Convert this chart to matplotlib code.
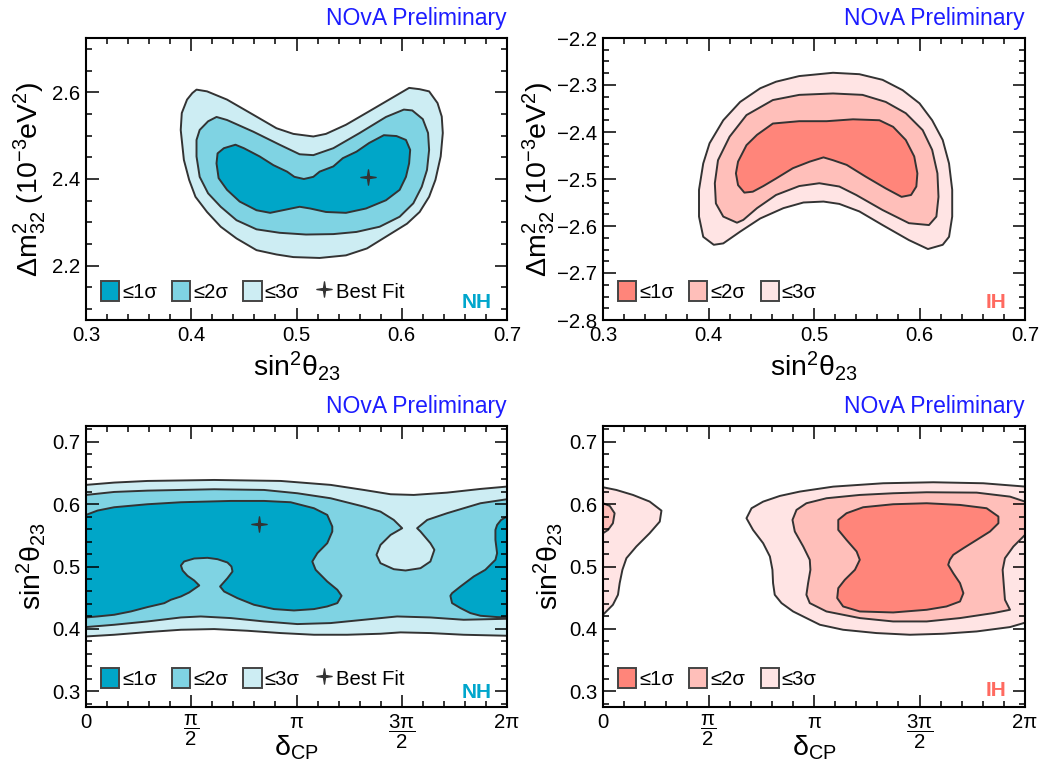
import numpy as np
import matplotlib
matplotlib.use('Agg')
import matplotlib.pyplot as plt
from matplotlib.ticker import MultipleLocator, FixedLocator, FixedFormatter
from matplotlib.patches import Patch
from matplotlib.lines import Line2D
from matplotlib.path import Path

plt.rcParams['font.family'] = ['Liberation Sans', 'DejaVu Sans']
plt.rcParams['mathtext.fontset'] = 'custom'
plt.rcParams['mathtext.rm'] = 'Liberation Sans'
plt.rcParams['mathtext.it'] = 'Liberation Sans:italic'
plt.rcParams['mathtext.bf'] = 'Liberation Sans:bold'
plt.rcParams['mathtext.default'] = 'regular'

# ---- NH: sin^2(theta23) vs dm^2_32 (1e-3 eV^2) contour outlines ----
nh_s23_3s = [0.405, 0.415, 0.434, 0.459, 0.481, 0.497, 0.516, 0.528, 0.547, 0.569, 0.588, 0.607, 0.617,
             0.626, 0.634, 0.638, 0.639, 0.637, 0.632, 0.626, 0.617, 0.605, 0.585, 0.567, 0.547, 0.522,
             0.497, 0.481, 0.462, 0.443, 0.428, 0.415, 0.404, 0.398, 0.393, 0.390, 0.391, 0.396, 0.401]
nh_dm_3s = [2.606, 2.602, 2.583, 2.548, 2.517, 2.504, 2.498, 2.504, 2.525, 2.556, 2.583, 2.610, 2.607,
            2.602, 2.575, 2.544, 2.506, 2.452, 2.398, 2.359, 2.324, 2.297, 2.267, 2.240, 2.224, 2.218,
            2.220, 2.226, 2.236, 2.263, 2.290, 2.324, 2.359, 2.398, 2.444, 2.513, 2.552, 2.583, 2.598]
nh_s23_2s = [0.424, 0.434, 0.459, 0.484, 0.503, 0.516, 0.535, 0.560, 0.585, 0.602, 0.610, 0.620, 0.625,
             0.626, 0.624, 0.619, 0.611, 0.598, 0.579, 0.557, 0.535, 0.509, 0.484, 0.462, 0.443, 0.428,
             0.416, 0.408, 0.405, 0.405, 0.408, 0.416]
nh_dm_2s = [2.543, 2.536, 2.509, 2.479, 2.457, 2.455, 2.471, 2.506, 2.543, 2.560, 2.558, 2.538, 2.506,
            2.467, 2.421, 2.382, 2.344, 2.313, 2.290, 2.278, 2.273, 2.272, 2.276, 2.284, 2.305, 2.336,
            2.367, 2.405, 2.452, 2.490, 2.513, 2.533]
nh_s23_1s = [0.442, 0.450, 0.465, 0.478, 0.491, 0.498, 0.507, 0.516, 0.522, 0.535, 0.544, 0.557, 0.569,
             0.583, 0.595, 0.604, 0.608, 0.607, 0.604, 0.598, 0.585, 0.566, 0.547, 0.528, 0.513, 0.503,
             0.491, 0.475, 0.462, 0.446, 0.434, 0.426, 0.424, 0.425, 0.431]
nh_dm_1s = [2.479, 2.471, 2.452, 2.432, 2.417, 2.405, 2.400, 2.405, 2.417, 2.429, 2.448, 2.463, 2.483,
            2.501, 2.499, 2.490, 2.467, 2.436, 2.405, 2.375, 2.351, 2.332, 2.322, 2.324, 2.332, 2.336,
            2.330, 2.322, 2.328, 2.348, 2.375, 2.402, 2.436, 2.459, 2.471]

# ---- IH: sin^2(theta23) vs dm^2_32 ----
ih_s23_3s = [0.405, 0.395, 0.391, 0.391, 0.395, 0.401, 0.414, 0.430, 0.449, 0.464, 0.486, 0.518, 0.543,
             0.565, 0.584, 0.600, 0.612, 0.622, 0.628, 0.631, 0.631, 0.628, 0.622, 0.608, 0.590, 0.565,
             0.543, 0.524, 0.509, 0.490, 0.471, 0.449, 0.430, 0.414]
ih_dm_3s = [-2.640, -2.623, -2.580, -2.523, -2.467, -2.424, -2.375, -2.336, -2.307, -2.293, -2.281, -2.274,
            -2.277, -2.289, -2.311, -2.339, -2.375, -2.417, -2.467, -2.523, -2.580, -2.623, -2.640, -2.649,
            -2.630, -2.598, -2.569, -2.553, -2.548, -2.550, -2.562, -2.584, -2.612, -2.637]
ih_s23_2s = [0.427, 0.414, 0.407, 0.406, 0.409, 0.420, 0.436, 0.461, 0.486, 0.518, 0.546, 0.568, 0.587,
             0.603, 0.612, 0.617, 0.618, 0.616, 0.609, 0.590, 0.565, 0.540, 0.524, 0.505, 0.486, 0.464,
             0.446, 0.433]
ih_dm_2s = [-2.593, -2.580, -2.552, -2.509, -2.460, -2.410, -2.364, -2.332, -2.321, -2.318, -2.321, -2.336,
            -2.360, -2.396, -2.438, -2.488, -2.538, -2.580, -2.598, -2.594, -2.566, -2.534, -2.516, -2.509,
            -2.515, -2.534, -2.562, -2.587]
ih_s23_1s = [0.434, 0.428, 0.426, 0.428, 0.436, 0.446, 0.461, 0.486, 0.512, 0.537, 0.562, 0.575, 0.587,
             0.595, 0.598, 0.597, 0.592, 0.583, 0.568, 0.549, 0.531, 0.518, 0.509, 0.496, 0.480, 0.464,
             0.452, 0.442]
ih_dm_1s = [-2.529, -2.513, -2.488, -2.463, -2.428, -2.406, -2.382, -2.377, -2.377, -2.373, -2.375, -2.389,
            -2.417, -2.452, -2.488, -2.516, -2.534, -2.538, -2.520, -2.495, -2.470, -2.460, -2.454, -2.463,
            -2.477, -2.499, -2.515, -2.527]

# ---- NH: delta_CP (units of pi) vs sin^2(theta23) ----
nh_dcp_3s_up = [0, 0.134, 0.292, 0.609, 0.925, 1.162, 1.320, 1.447, 1.557, 1.715, 1.874, 2.0]
nh_sd_3s_up = [0.6307, 0.6344, 0.637, 0.6386, 0.637, 0.6307, 0.6226, 0.6157, 0.6146, 0.6183, 0.6242, 0.628]
nh_dcp_3s_lo = [0, 0.134, 0.292, 0.451, 0.609, 0.767, 0.925, 1.083, 1.241, 1.399, 1.494, 1.636, 1.794, 2.0]
nh_sd_3s_lo = [0.388, 0.3907, 0.395, 0.3987, 0.3998, 0.3971, 0.3934, 0.3907, 0.3907, 0.3923, 0.3945,
               0.3934, 0.3907, 0.3891]
nh_dcp_2s_up = [0, 0.134, 0.292, 0.609, 0.846, 1.004, 1.162, 1.320, 1.399, 1.462, 1.502, 1.447, 1.399,
                1.380, 1.399, 1.462, 1.518, 1.589, 1.636, 1.655, 1.636, 1.589, 1.573, 1.621, 1.715, 1.794,
                1.874, 2.0]
nh_sd_2s_up = [0.6146, 0.6194, 0.6215, 0.6237, 0.6226, 0.6173, 0.6093, 0.5959, 0.5879, 0.5746, 0.5613,
               0.5506, 0.5346, 0.5187, 0.5053, 0.4957, 0.4936, 0.4973, 0.5080, 0.5267, 0.5373, 0.5560,
               0.5613, 0.5746, 0.5853, 0.5933, 0.6013, 0.6077]
nh_dcp_2s_lo = [0, 0.134, 0.292, 0.451, 0.545, 0.688, 0.846, 1.004, 1.162, 1.320, 1.478, 1.636, 1.794, 2.0]
nh_sd_2s_lo = [0.403, 0.4067, 0.412, 0.4184, 0.42, 0.4174, 0.412, 0.4078, 0.4094, 0.4147, 0.42, 0.4184,
               0.4147, 0.4163]
nh_dcp_1s_a = [0, 0.055, 0.134, 0.292, 0.451, 0.688, 0.846, 0.972, 1.083, 1.146, 1.170, 1.170, 1.146,
               1.099, 1.075, 1.091, 1.146, 1.194, 1.214, 1.194, 1.146, 1.083, 0.988, 0.893, 0.798, 0.719,
               0.656, 0.637, 0.672, 0.696, 0.691, 0.672, 0.625, 0.577, 0.514, 0.466, 0.451, 0.459, 0.482,
               0.514, 0.538, 0.490, 0.451, 0.403, 0.372, 0.292, 0.213, 0.134, 0.055, 0]
nh_sd_1s_a = [0.5826, 0.5896, 0.5949, 0.5997, 0.6029, 0.605, 0.605, 0.6029, 0.5933, 0.5826, 0.564, 0.556,
              0.5373, 0.5213, 0.508, 0.4947, 0.476, 0.4627, 0.4531, 0.4414, 0.436, 0.4318, 0.4296, 0.4318,
              0.4387, 0.4494, 0.46, 0.468, 0.4813, 0.492, 0.5, 0.5064, 0.5117, 0.5139, 0.5128, 0.508,
              0.5016, 0.4936, 0.4851, 0.4776, 0.4696, 0.4584, 0.452, 0.4467, 0.4413, 0.435, 0.428, 0.4227,
              0.42, 0.4184]
nh_dcp_1s_b = [2.0, 1.972, 1.953, 1.945, 1.945, 1.953, 1.945, 1.897, 1.842, 1.779, 1.739, 1.731, 1.739,
               1.779, 1.826, 1.874, 1.953, 2.0]
nh_sd_1s_b = [0.58, 0.5746, 0.5666, 0.5586, 0.5426, 0.5213, 0.5107, 0.4947, 0.484, 0.468, 0.4573, 0.4531,
              0.4414, 0.4334, 0.4254, 0.4211, 0.419, 0.4184]

# ---- IH: delta_CP (units of pi) vs sin^2(theta23) ----
ih_dcp_3s_a = [0, 0.063, 0.142, 0.221, 0.277, 0.269, 0.221, 0.158, 0.111, 0.092, 0.079, 0.071, 0.047, 0]
ih_sd_3s_a = [0.6269, 0.6226, 0.6146, 0.604, 0.5895, 0.5719, 0.5533, 0.532, 0.5133, 0.4947, 0.4733,
              0.4547, 0.4387, 0.4227]
ih_dcp_2s_a = [0, 0.032, 0.055, 0.047, 0.024, 0]
ih_sd_2s_a = [0.6013, 0.597, 0.5853, 0.5693, 0.5586, 0.5533]
ih_dcp_3s_b = [0.680, 0.704, 0.759, 0.838, 0.933, 1.091, 1.328, 1.565, 1.802, 2.0, 2.0, 1.929, 1.771, 1.613,
               1.455, 1.296, 1.138, 1.028, 0.964, 0.901, 0.846, 0.814, 0.806, 0.803, 0.791, 0.759, 0.711]
ih_sd_3s_b = [0.5773, 0.5933, 0.6039, 0.613, 0.62, 0.6279, 0.6333, 0.6349, 0.6333, 0.628, 0.41, 0.403,
              0.396, 0.3923, 0.3907, 0.3934, 0.3987, 0.4067, 0.4174, 0.428, 0.4414, 0.4547, 0.4733, 0.4947,
              0.516, 0.5373, 0.5586]
ih_dcp_2s_b = [0.898, 0.917, 0.964, 1.059, 1.217, 1.375, 1.534, 1.771, 1.929, 2.0, 2.0, 1.945, 1.905, 1.894,
               1.900, 1.905, 1.929, 1.850, 1.692, 1.534, 1.375, 1.217, 1.059, 0.980, 0.964, 0.972, 0.983,
               0.980, 0.949, 0.909]
ih_sd_2s_b = [0.5746, 0.5906, 0.6013, 0.6093, 0.6146, 0.6173, 0.6189, 0.6183, 0.6119, 0.6039, 0.5506,
              0.532, 0.5133, 0.4947, 0.468, 0.4467, 0.4307, 0.4254, 0.4174, 0.412, 0.412, 0.4174, 0.428,
              0.4414, 0.4547, 0.4733, 0.4947, 0.5107, 0.532, 0.556]
ih_dcp_1s_b = [1.115, 1.154, 1.233, 1.375, 1.534, 1.692, 1.818, 1.874, 1.874, 1.834, 1.771, 1.708, 1.660,
               1.644, 1.636, 1.660, 1.692, 1.708, 1.692, 1.628, 1.534, 1.375, 1.217, 1.138, 1.110, 1.115,
               1.146, 1.194, 1.217, 1.202, 1.154, 1.115]
ih_sd_1s_b = [0.5746, 0.5853, 0.5949, 0.5997, 0.6013, 0.5986, 0.5933, 0.58, 0.5693, 0.556, 0.5426, 0.5293,
              0.5187, 0.5107, 0.5027, 0.4893, 0.4733, 0.4573, 0.444, 0.436, 0.4307, 0.4264, 0.428, 0.436,
              0.4494, 0.4653, 0.4787, 0.4947, 0.5107, 0.524, 0.5426, 0.5586]

# best fit point (NH)
nh_best_s23, nh_best_dm, nh_best_dcp = 0.568, 2.405, 0.82

nh_cols = ['#00a6c8', '#7fd3e3', '#cdedf3']   # 1s, 2s, 3s
ih_cols = ['#ff857a', '#ffbfba', '#ffe4e4']
edge = '#333333'
nh_txt, ih_txt = '#00a6cc', '#ff6a60'
sig_labels = ['≤1σ', '≤2σ', '≤3σ']

# thin four-pointed star like ROOT's marker
w = 0.13
star = Path([(0, 1), (w, w), (1, 0), (w, -w), (0, -1), (-w, -w), (-1, 0), (-w, w), (0, 1)],
            [Path.MOVETO] + [Path.LINETO] * 7 + [Path.CLOSEPOLY])

fig = plt.figure(figsize=(10.42, 7.65), dpi=100)
W, H = 1042, 765
def add_ax(x0, y0, x1, y1):
    return fig.add_axes([x0 / W, 1 - y1 / H, (x1 - x0) / W, (y1 - y0) / H])

ax_tl = add_ax(86, 38, 507, 320)
ax_tr = add_ax(603, 38, 1025, 320)
ax_bl = add_ax(86, 426, 507, 707)
ax_br = add_ax(603, 426, 1025, 707)

def fill(ax, x, y, c):
    ax.fill(x, y, facecolor=c, edgecolor=edge, lw=1.4, joinstyle='round')

def style(ax):
    ax.tick_params(which='both', direction='in', top=True, right=True, width=1.1,
                   labelsize=14.7, pad=4)
    ax.tick_params(which='major', length=9)
    ax.tick_params(which='minor', length=4.5)
    for s in ax.spines.values():
        s.set_linewidth(1.5)
    ax.text(1.0, 1.047, 'NOvA Preliminary', transform=ax.transAxes, ha='right', va='baseline',
            color='#1c1cff', fontsize=16.5)

def legend(ax, cols, best):
    handles = [Patch(facecolor=c, edgecolor='#444444', lw=1.4) for c in cols]
    labels = list(sig_labels)
    if best:
        handles.append(Line2D([], [], ls='none', marker=star, ms=11, color=edge))
        labels.append('Best Fit')
    ax.legend(handles, labels, ncol=len(labels), loc='lower left', bbox_to_anchor=(0.035, 0.065),
              frameon=False, fontsize=14.6, handlelength=0.9, handleheight=1.15, handletextpad=0.15,
              columnspacing=0.75, borderpad=0, borderaxespad=0)

# top-left: NH dm2 vs sin2
ax = ax_tl
fill(ax, nh_s23_3s, nh_dm_3s, nh_cols[2])
fill(ax, nh_s23_2s, nh_dm_2s, nh_cols[1])
fill(ax, nh_s23_1s, nh_dm_1s, nh_cols[0])
ax.plot(nh_best_s23, nh_best_dm, ls='none', marker=star, ms=11, color=edge)
ax.set_xlim(0.3, 0.7)
ax.set_ylim(2.075, 2.725)
ax.xaxis.set_major_locator(MultipleLocator(0.1))
ax.xaxis.set_minor_locator(MultipleLocator(0.02))
ax.yaxis.set_major_locator(MultipleLocator(0.2))
ax.yaxis.set_minor_locator(MultipleLocator(0.05))
style(ax)
legend(ax, nh_cols, True)
ax.text(0.964, 0.043, 'NH', transform=ax.transAxes, ha='right', va='baseline', color=nh_txt,
        fontsize=15, fontweight='bold')

# top-right: IH
ax = ax_tr
fill(ax, ih_s23_3s, ih_dm_3s, ih_cols[2])
fill(ax, ih_s23_2s, ih_dm_2s, ih_cols[1])
fill(ax, ih_s23_1s, ih_dm_1s, ih_cols[0])
ax.set_xlim(0.3, 0.7)
ax.set_ylim(-2.8, -2.2)
ax.xaxis.set_major_locator(MultipleLocator(0.1))
ax.xaxis.set_minor_locator(MultipleLocator(0.02))
ax.yaxis.set_major_locator(MultipleLocator(0.1))
ax.yaxis.set_minor_locator(MultipleLocator(0.025))
style(ax)
legend(ax, ih_cols, False)
ax.text(0.957, 0.043, 'IH', transform=ax.transAxes, ha='right', va='baseline', color=ih_txt,
        fontsize=15, fontweight='bold')

for ax, lx in ((ax_tl, -0.09), (ax_tr, -0.108)):
    ax.set_xlabel(r'sin$^{2}$θ$_{23}$', fontsize=20.5)
    ax.xaxis.set_label_coords(0.5, -0.105)
    ax.set_ylabel(r'Δm$^{2}_{32}$ (10$^{-3}$eV$^{2}$)', fontsize=20.5)
    ax.yaxis.set_label_coords(lx, 0.5)

pi = np.pi
def band(xu, yu, xl, yl):
    return list(np.array(xu) * pi) + list(np.array(xl[::-1]) * pi), list(yu) + list(yl[::-1])

# bottom-left: NH sin2 vs dcp
ax = ax_bl
fill(ax, *band(nh_dcp_3s_up, nh_sd_3s_up, nh_dcp_3s_lo, nh_sd_3s_lo), nh_cols[2])
fill(ax, *band(nh_dcp_2s_up, nh_sd_2s_up, nh_dcp_2s_lo, nh_sd_2s_lo), nh_cols[1])
fill(ax, np.array(nh_dcp_1s_a) * pi, nh_sd_1s_a, nh_cols[0])
fill(ax, np.array(nh_dcp_1s_b) * pi, nh_sd_1s_b, nh_cols[0])
ax.plot(nh_best_dcp * pi, nh_best_s23, ls='none', marker=star, ms=11, color=edge)
legend(ax, nh_cols, True)
ax.text(0.964, 0.032, 'NH', transform=ax.transAxes, ha='right', va='baseline', color=nh_txt,
        fontsize=15, fontweight='bold', zorder=1)

# bottom-right: IH sin2 vs dcp
ax = ax_br
fill(ax, np.array(ih_dcp_3s_a) * pi, ih_sd_3s_a, ih_cols[2])
fill(ax, np.array(ih_dcp_2s_a) * pi, ih_sd_2s_a, ih_cols[1])
fill(ax, np.array(ih_dcp_3s_b) * pi, ih_sd_3s_b, ih_cols[2])
fill(ax, np.array(ih_dcp_2s_b) * pi, ih_sd_2s_b, ih_cols[1])
fill(ax, np.array(ih_dcp_1s_b) * pi, ih_sd_1s_b, ih_cols[0])
legend(ax, ih_cols, False)
ax.text(0.957, 0.039, 'IH', transform=ax.transAxes, ha='right', va='baseline', color=ih_txt,
        fontsize=15, fontweight='bold', zorder=1)

dcp_ticks = [0, pi / 2, pi, 3 * pi / 2, 2 * pi]
dcp_labels = ['0', r'$\dfrac{π}{2}$', 'π', r'$\dfrac{3π}{2}$', '2π']
for ax in (ax_bl, ax_br):
    ax.set_xlim(0, 2 * pi)
    ax.set_ylim(0.275, 0.725)
    ax.xaxis.set_major_locator(FixedLocator(dcp_ticks))
    ax.xaxis.set_major_formatter(FixedFormatter(dcp_labels))
    ax.xaxis.set_minor_locator(MultipleLocator(pi / 10))
    ax.yaxis.set_major_locator(MultipleLocator(0.1))
    ax.yaxis.set_minor_locator(MultipleLocator(0.02))
    style(ax)
    ax.set_xlabel(r'δ$_{CP}$', fontsize=20.5)
    ax.xaxis.set_label_coords(0.5, -0.095)
    ax.set_ylabel(r'sin$^{2}$θ$_{23}$', fontsize=20.5)
    ax.yaxis.set_label_coords(-0.09, 0.5)

fig.savefig('out.png', dpi=100)
